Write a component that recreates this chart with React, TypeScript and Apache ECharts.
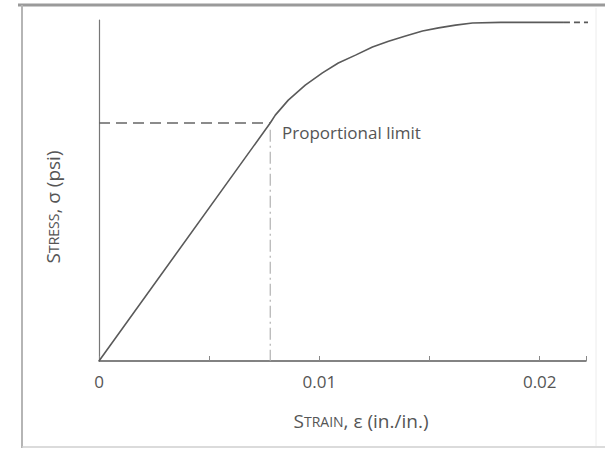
import React, { useEffect, useRef } from "react";
import * as echarts from "echarts";

// Strain (in./in.) and stress (relative units, no tick labels in source)
const strain = [0, 0.00777, 0.008, 0.00859, 0.00936, 0.01014, 0.01086, 0.01164, 0.01241, 0.01314, 0.01391, 0.01468, 0.01541, 0.01618, 0.01695, 0.01823, 0.0211];
const stress = [0, 69.8, 72.1, 76.5, 80.9, 84.5, 87.4, 89.7, 92.1, 93.8, 95.3, 96.8, 97.7, 98.5, 99.1, 99.3, 99.3];
const tailStrain = [0.0211, 0.0222];
const tailStress = [99.3, 99.3];
const propLimit = { strain: 0.00777, stress: 69.8 };
const xTickLabels = ["0", "0.01", "0.02"];

const INK = "#5a5a5a";
const TXT = "#555555";
const FONT = "'Open Sans', 'Noto Sans', sans-serif";

export default function App() {
  const ref = useRef<HTMLDivElement>(null);
  useEffect(() => {
    if (!ref.current) return;
    const chart = echarts.init(ref.current, null, { renderer: "svg" });
    const curve = strain.map((s, i) => [s, stress[i]]);
    const tail = tailStrain.map((s, i) => [s, tailStress[i]]);
    chart.setOption({
      animation: false,
      backgroundColor: "#ffffff",
      grid: { left: 99, right: 19, top: 20, bottom: 89 },
      xAxis: {
        type: "value",
        min: 0,
        max: 0.0221,
        interval: 0.005,
        axisLine: { show: true, lineStyle: { color: INK, width: 1.5 } },
        axisTick: { show: true, inside: true, length: 5, lineStyle: { color: "#888", width: 1 } },
        axisLabel: {
          color: TXT,
          fontFamily: FONT,
          fontSize: 17,
          margin: 12,
          formatter: (v: number) => {
            const r = Math.round(v * 1000) / 1000;
            if (r === 0) return xTickLabels[0];
            if (Math.abs(r - 0.01) < 1e-9) return xTickLabels[1];
            if (Math.abs(r - 0.02) < 1e-9) return xTickLabels[2];
            return "";
          },
        },
        splitLine: { show: false },
      },
      yAxis: {
        type: "value",
        min: 0,
        max: 100,
        axisLine: { show: true, lineStyle: { color: "#777", width: 1.2 } },
        axisTick: { show: false },
        axisLabel: { show: false },
        splitLine: { show: false },
      },
      series: [
        {
          type: "line",
          data: curve,
          showSymbol: false,
          smooth: false,
          lineStyle: { color: INK, width: 1.6 },
        },
        {
          type: "line",
          data: tail,
          showSymbol: false,
          lineStyle: { color: INK, width: 1.6, type: [6, 4] },
        },
        {
          type: "line",
          data: [[0, propLimit.stress], [propLimit.strain, propLimit.stress]],
          showSymbol: false,
          lineStyle: { color: "#666", width: 1.3, type: [11, 6] },
        },
        {
          type: "line",
          data: [[propLimit.strain, propLimit.stress - 2], [propLimit.strain, 0]],
          showSymbol: false,
          lineStyle: { color: "#aaa", width: 1.1, type: [12, 4, 2, 4] },
        },
      ],
      graphic: [
        { type: "line", shape: { x1: 18, y1: 5, x2: 605, y2: 5 }, style: { stroke: "#9a9a9a", lineWidth: 3 } },
        { type: "line", shape: { x1: 22, y1: 5, x2: 22, y2: 448 }, style: { stroke: "#b5b5b5", lineWidth: 2 } },
        { type: "line", shape: { x1: 22, y1: 447, x2: 605, y2: 447 }, style: { stroke: "#cfcfcf", lineWidth: 1.5 } },
        { type: "line", shape: { x1: 596, y1: 8, x2: 596, y2: 446 }, style: { stroke: "#ececec", lineWidth: 1 } },
        {
          type: "text",
          x: 282,
          y: 132,
          style: {
            text: "Proportional limit",
            fill: TXT,
            font: `17px ${FONT}`,
            textVerticalAlign: "middle",
          },
        },
        {
          type: "text",
          x: 361,
          y: 421,
          style: {
            rich: {
              b: { fontSize: 19, fontFamily: FONT, fill: TXT },
              s: { fontSize: 14, fontFamily: FONT, fill: TXT },
            },
            text: "{b|S}{s|TRAIN}{b|, ε (in./in.)}",
            textAlign: "center",
            textVerticalAlign: "middle",
          },
        },
        {
          type: "text",
          x: 53,
          y: 207,
          rotation: Math.PI / 2,
          style: {
            rich: {
              b: { fontSize: 19, fontFamily: FONT, fill: TXT },
              s: { fontSize: 14, fontFamily: FONT, fill: TXT },
            },
            text: "{b|S}{s|TRESS}{b|, σ (psi)}",
            textAlign: "center",
            textVerticalAlign: "middle",
          },
        },
      ],
    });
    return () => chart.dispose();
  }, []);
  return (
    <div
      ref={ref}
      style={{ position: "fixed", left: 0, top: 0, width: 605, height: 450 }}
    />
  );
}
